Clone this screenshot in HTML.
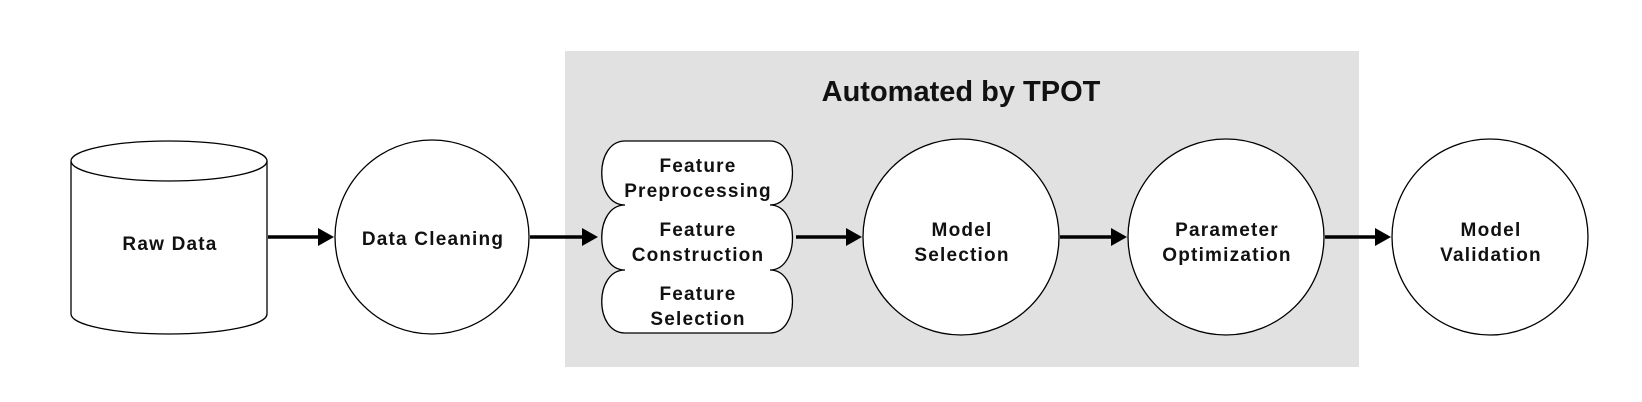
<!DOCTYPE html>
<html><head><meta charset="utf-8"><style>
html,body{margin:0;padding:0;background:#fff;}
svg{display:block;}
text{font-family:"Liberation Sans",Arial,sans-serif;font-weight:bold;fill:#111;text-anchor:middle;}
.n{letter-spacing:1.2px;}
</style></head><body>
<svg width="1642" height="402" viewBox="0 0 1642 402" xmlns="http://www.w3.org/2000/svg">
<rect x="565" y="51" width="794" height="316" fill="#e1e1e1"/>
<text x="961" y="101" font-size="29">Automated by TPOT</text>
<g stroke="#000" stroke-width="1.3" fill="#fff">
<path d="M71,161 L71,314 A98,20 0 0 0 267,314 L267,161"/>
<ellipse cx="169" cy="161" rx="98" ry="20"/>
<circle cx="432" cy="237" r="97"/>
<path d="M625,141 L770,141 C800,141 800,205 770,205 C800,205 800,270 770,270 C800,270 800,333 770,333 L625,333 C594,333 594,270 625,270 C594,270 594,205 625,205 C594,205 594,141 625,141 Z"/>
<circle cx="961" cy="237" r="98"/>
<circle cx="1226" cy="237" r="98"/>
<circle cx="1490" cy="237" r="98"/>
</g>
<g stroke="#000" stroke-width="3.5">
<line x1="268" y1="237" x2="322" y2="237"/>
<line x1="530" y1="237" x2="586" y2="237"/>
<line x1="796" y1="237" x2="850" y2="237"/>
<line x1="1060" y1="237" x2="1115" y2="237"/>
<line x1="1325" y1="237" x2="1379" y2="237"/>
</g>
<g fill="#000">
<path d="M334,237 L318,228 L318,246 z"/>
<path d="M598,237 L582,228 L582,246 z"/>
<path d="M862,237 L846,228 L846,246 z"/>
<path d="M1127,237 L1111,228 L1111,246 z"/>
<path d="M1391,237 L1375,228 L1375,246 z"/>
</g>
<g font-size="19" class="n">
<text x="170" y="250">Raw Data</text>
<text x="433" y="245">Data Cleaning</text>
<text x="698" y="172">Feature</text>
<text x="698" y="197">Preprocessing</text>
<text x="698" y="236">Feature</text>
<text x="698" y="261">Construction</text>
<text x="698" y="300">Feature</text>
<text x="698" y="325">Selection</text>
<text x="962" y="236">Model</text>
<text x="962" y="261">Selection</text>
<text x="1227" y="236">Parameter</text>
<text x="1227" y="261">Optimization</text>
<text x="1491" y="236">Model</text>
<text x="1491" y="261">Validation</text>
</g>
</svg>
</body></html>
